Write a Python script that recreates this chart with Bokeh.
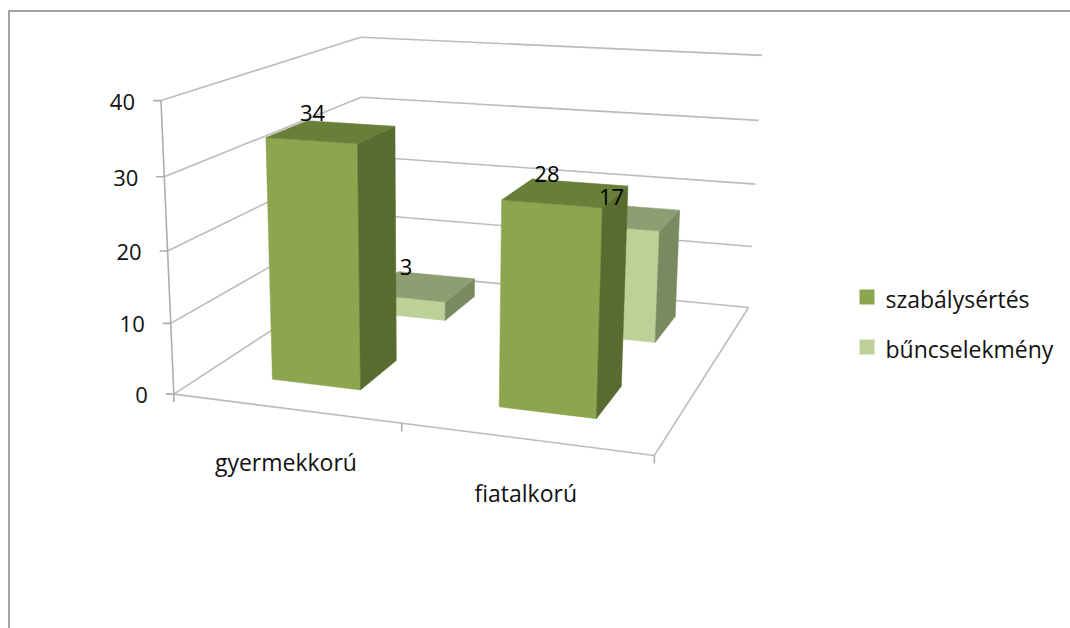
import numpy as np
from bokeh.plotting import figure
from bokeh.embed import file_html
from bokeh.resources import INLINE
from bokeh.core.properties import value

categories = ["gyermekkorú", "fiatalkorú"]
series_names = ["szabálysértés", "bűncselekmény"]
szabalysertes = [34, 28]
buncselekmeny = [3, 17]
y_ticks = [0, 10, 20, 30, 40]

FONT = "Open Sans"
TXT = "#111111"
# faces: front, side, top
DARK = ("#8ba64e", "#5a6b30", "#677f38")
LIGHT = ("#bbd198", "#7a8a60", "#8d9f72")
GRID = "#bcbcbc"
AXIS = "#adadad"
FRAME = "#a2a2a2"

# Camera: box space (category u 0..2, depth v 0..1, value z 0..40) -> picture
anchors = [((0,0,40),(160,101)),((0,0,30),(163,176)),((0,0,20),(167,250)),((0,0,10),(171,322)),((0,0,0),(174,392)),
((0,1,40),(361,36)),((0,1,30),(361,96)),((0,1,20),(361,156)),((0,1,10),(362,214)),((0,1,0),(362,272)),
((2,1,40),(762,56)),((2,1,30),(757,120)),((2,1,20),(755,183)),((2,1,10),(752,246)),((2,1,0),(748,305)),
((2,0,0),(654,456)),((1,0,0),(401,424))]
A=[];b=[]
for (X,Y,Z),(x,y) in anchors:
    A.append([X,Y,Z,1,0,0,0,0,-x*X,-x*Y,-x*Z]);b.append(x)
    A.append([0,0,0,0,X,Y,Z,1,-y*X,-y*Y,-y*Z]);b.append(y)
sol=np.linalg.lstsq(np.array(A,float),np.array(b,float),rcond=None)[0]
P=np.append(sol,1).reshape(3,4)
def proj(u,v,z):
    w=P@np.array([u,v,z,1.0]);return float(w[0]/w[2]),float(w[1]/w[2])

p=figure(width=1070,height=628,x_range=(0,1070),y_range=(628,0),toolbar_location=None,
         output_backend="svg",min_border=0,outline_line_color=None)
p.axis.visible=False;p.grid.visible=False

def seg(a,b,color=GRID,w=1.6):
    xa,ya=a;xb,yb=b
    p.line([xa,xb],[ya,yb],line_color=color,line_width=w)

# chart frame
seg((8.5,628),(8.5,10),FRAME,2)
seg((8,10.5),(1070,10.5),FRAME,2)

# walls and floor
for t in y_ticks:
    seg(proj(0,0,t),proj(0,1,t))
    seg(proj(0,1,t),proj(2,1,t))
seg(proj(2,1,0),proj(2,0,0))
seg(proj(0,0,0),proj(2,0,0))
seg(proj(0,0,0),proj(0,0,y_ticks[-1]),AXIS)

# ticks and labels
for t in y_ticks:
    x,y=proj(0,0,t)
    seg((x-8,y),(x,y),AXIS)
    p.text([x-26],[y+1],text=[str(t)],text_align="right",text_baseline="middle",
           text_font=value(FONT),text_font_size="22px",text_color=TXT)
for u in range(len(categories)+1):
    x,y=proj(u,0,0)
    seg((x,y),(x,y+8),AXIS)
cat_off=[(1,54),(1,54)]
for i,c in enumerate(categories):
    x,y=proj(i+.5,0,0)
    p.text([x+cat_off[i][0]],[y+cat_off[i][1]],text=[c],text_align="center",text_baseline="middle",
           text_font=value(FONT),text_font_size="23px",text_color=TXT)

def bar(i,z,v0,v1,cols):
    u0,u1=i+.3,i+.7
    def face(pts,col):
        xs,ys=zip(*[proj(*q) for q in pts])
        p.patch(list(xs),list(ys),fill_color=col,line_color=col,line_width=.5)
    face([(u0,v0,0),(u1,v0,0),(u1,v0,z),(u0,v0,z)],cols[0])
    face([(u1,v0,0),(u1,v1,0),(u1,v1,z),(u1,v0,z)],cols[1])
    face([(u0,v0,z),(u1,v0,z),(u1,v1,z),(u0,v1,z)],cols[2])

BACK=(.66,.87);FRONT=(.15,.35)
for i,z in enumerate(buncselekmeny):
    bar(i,z,*BACK,LIGHT)
for i,z in enumerate(szabalysertes):
    bar(i,z,*FRONT,DARK)

def dlabel(i,z,v,dx,dy):
    x,y=proj(i+.5,v,z)
    p.text([x+dx],[y+dy],text=[str(z)],text_align="center",text_baseline="middle",
           text_font=value(FONT),text_font_size="22px",text_color="#000000")
for i,z in enumerate(buncselekmeny):
    dlabel(i,z,sum(BACK)/2,-15,-19.5)
for i,z in enumerate(szabalysertes):
    dlabel(i,z,sum(FRONT)/2,-19,-19)

# legend
for name,col,y in zip(series_names,(DARK[0],LIGHT[0]),(296.5,346.5)):
    p.quad(left=[859],right=[874],top=[y-7.5],bottom=[y+7.5],fill_color=col,line_color=None)
    p.text([885],[y+2],text=[name],text_baseline="middle",text_font=value(FONT),
           text_font_size="23px",text_color=TXT)

open("out.html","w").write(file_html(p,INLINE))
